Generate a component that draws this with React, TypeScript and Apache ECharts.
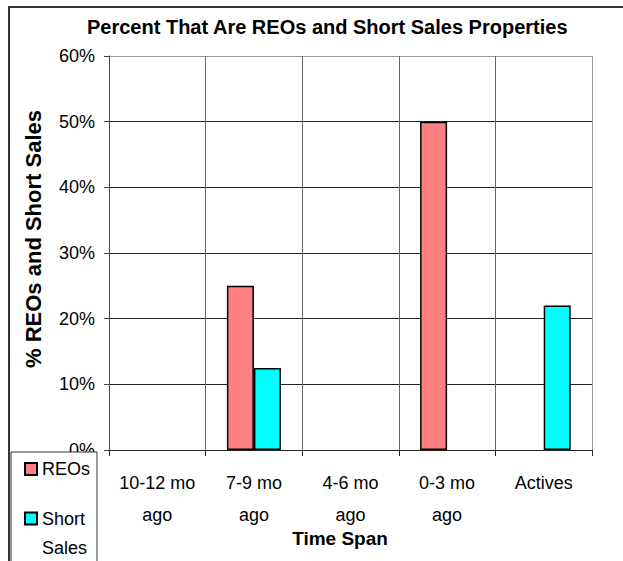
import React, { useEffect, useRef } from "react";
import * as echarts from "echarts";

const categories = ["10-12 mo\nago", "7-9 mo\nago", "4-6 mo\nago", "0-3 mo\nago", "Actives"];
const reoValues = [0, 25, 0, 50, 0];
const shortSalesValues = [0, 12.5, 0, 0, 22];
const yTicks = { min: 0, max: 60, interval: 10 };

const FONT = '"Liberation Sans", Arial, Helvetica, sans-serif';

const toBarData = (values: number[]) =>
  values.map((v) => (v === 0 ? { value: v, itemStyle: { borderWidth: 0 } } : v));

export default function App() {
  const ref = useRef<HTMLDivElement>(null);
  useEffect(() => {
    document.body.style.margin = "0";
    const chart = echarts.init(ref.current!, null, { renderer: "svg" });
    chart.setOption({
      animation: false,
      backgroundColor: "#fff",
      textStyle: { fontFamily: FONT, color: "#000" },
      title: {
        text: "Percent That Are REOs and Short Sales Properties",
        left: 87,
        top: 17,
        padding: 0,
        textStyle: { fontFamily: FONT, fontSize: 20, fontWeight: "bold", color: "#000" },
      },
      grid: { left: 109, top: 56, right: 31, bottom: 111, containLabel: false },
      xAxis: {
        type: "category",
        data: categories,
        z: 5,
        axisLine: { lineStyle: { color: "#222", width: 1 } },
        axisTick: { show: true, length: 6, lineStyle: { color: "#222" } },
        axisLabel: {
          margin: 17,
          fontSize: 18,
          lineHeight: 32,
          color: "#000",
          fontFamily: FONT,
          interval: 0,
          verticalAlign: "top",
        },
        splitLine: {
          show: true,
          lineStyle: { color: ["#444", "#666", "#666", "#666", "#666", "#999"], width: 1 },
        },
      },
      yAxis: {
        type: "value",
        min: yTicks.min,
        max: yTicks.max,
        interval: yTicks.interval,
        axisLine: { show: true, lineStyle: { color: "#444", width: 1 } },
        axisTick: { show: true, length: 5, lineStyle: { color: "#444" } },
        axisLabel: {
          formatter: "{value}%",
          margin: 14,
          fontSize: 18,
          color: "#000",
          fontFamily: FONT,
        },
        splitLine: {
          show: true,
          lineStyle: { color: ["#222", "#222", "#222", "#222", "#222", "#222", "#999"], width: 1 },
        },
      },
      legend: [
        {
          data: ["REOs"],
          orient: "vertical",
          left: 24,
          top: 460,
          padding: 0,
          icon: "rect",
          itemWidth: 12,
          itemHeight: 12,
          z: 101,
          textStyle: { fontSize: 18, color: "#000", fontFamily: FONT },
        },
        {
          data: ["Short Sales"],
          orient: "vertical",
          left: 24,
          top: 475,
          padding: 0,
          icon: "rect",
          itemWidth: 12,
          itemHeight: 12,
          z: 101,
          formatter: () => "\nShort\nSales",
          textStyle: { fontSize: 18, lineHeight: 29, color: "#000", fontFamily: FONT },
        },
      ],
      graphic: [
        {
          type: "rect",
          z: 100,
          shape: { x: 9, y: 7, width: 700, height: 700 },
          style: { fill: "none", stroke: "#333", lineWidth: 2 },
          silent: true,
        },
        {
          type: "rect",
          z: 100,
          shape: { x: 11, y: 452, width: 86, height: 200 },
          style: { fill: "#fff", stroke: "#333", lineWidth: 1 },
          silent: true,
        },
        {
          type: "text",
          z: 100,
          x: 33,
          y: 239,
          rotation: Math.PI / 2,
          style: {
            text: "% REOs and Short Sales",
            font: `bold 22px ${FONT}`,
            fill: "#000",
            textAlign: "center",
            textVerticalAlign: "middle",
          },
        },
        {
          type: "text",
          z: 100,
          x: 340,
          y: 538,
          style: {
            text: "Time Span",
            font: `bold 19px ${FONT}`,
            fill: "#000",
            textAlign: "center",
            textVerticalAlign: "middle",
          },
        },
      ],
      series: [
        {
          name: "REOs",
          type: "bar",
          data: toBarData(reoValues),
          barWidth: 27,
          barGap: "0%",
          itemStyle: { color: "#FF8080", borderColor: "#000", borderWidth: 1.5 },
        },
        {
          name: "Short Sales",
          type: "bar",
          data: toBarData(shortSalesValues),
          barWidth: 27,
          barGap: "0%",
          itemStyle: { color: "#00FFFF", borderColor: "#000", borderWidth: 1.5 },
        },
      ],
    });
    return () => chart.dispose();
  }, []);
  return <div ref={ref} style={{ width: 623, height: 561 }} />;
}
